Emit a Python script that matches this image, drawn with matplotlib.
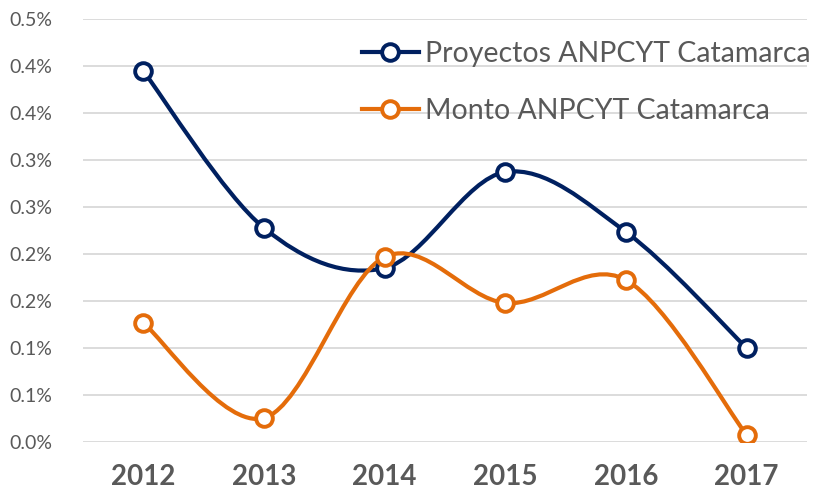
import matplotlib.pyplot as plt
import numpy as np
from decimal import Decimal, ROUND_HALF_UP
from matplotlib.path import Path
from matplotlib.patches import PathPatch
from matplotlib.lines import Line2D
from matplotlib.ticker import FuncFormatter

years = ["2012", "2013", "2014", "2015", "2016", "2017"]
proyectos = [0.3947, 0.2277, 0.1851, 0.2872, 0.2234, 0.1000]
monto = [0.1266, 0.0255, 0.1968, 0.1479, 0.1723, 0.0074]
labels = ["Proyectos ANPCYT Catamarca", "Monto ANPCYT Catamarca"]
colors = ["#002060", "#E46C0A"]

plt.rcParams["font.family"] = ["Lato", "DejaVu Sans"]


def smooth_path(xs, ys):
    """Excel-like smoothed line: Catmull-Rom segments as cubic Bezier"""
    pts = np.column_stack([xs, ys])
    n = len(pts)
    verts = [pts[0]]
    codes = [Path.MOVETO]
    for i in range(n - 1):
        p_prev = pts[max(i - 1, 0)]
        p0 = pts[i]
        p1 = pts[i + 1]
        p_next = pts[min(i + 2, n - 1)]
        c1 = p0 + (p1 - p_prev) / 6.0
        c2 = p1 - (p_next - p0) / 6.0
        verts += [c1, c2, p1]
        codes += [Path.CURVE4] * 3
    return Path(verts, codes)


def pct_fmt(v, pos):
    # Excel style rounding (half up) to one decimal
    d = Decimal(f"{v:.4f}").quantize(Decimal("0.1"), rounding=ROUND_HALF_UP)
    return f"{d}%"


fig = plt.figure(figsize=(8.14, 5.0), dpi=100)
ax = fig.add_axes([83 / 814, 58 / 500, 724 / 814, 423 / 500])

x = np.arange(len(years))
for vals, color in zip([proyectos, monto], colors):
    patch = PathPatch(smooth_path(x, vals), facecolor="none", edgecolor=color,
                      lw=3.0, capstyle="round", zorder=3)
    ax.add_patch(patch)
    ax.plot(x, vals, linestyle="none", marker="o", markersize=12,
            markerfacecolor="white", markeredgecolor=color,
            markeredgewidth=2.8, zorder=4)

ax.set_xlim(-0.5, len(years) - 0.5)
ax.set_ylim(0, 0.45)
ax.set_yticks(np.arange(0, 0.451, 0.05))
ax.yaxis.set_major_formatter(FuncFormatter(pct_fmt))
ax.set_xticks(x)
ax.set_xticklabels(years, fontsize=20, fontweight="bold", color="#595959")
ax.tick_params(axis="y", labelsize=14, colors="#595959", length=0, pad=22)
ax.tick_params(axis="x", length=0, pad=16)
ax.grid(axis="y", color="#D9D9D9", lw=1.3)
ax.set_axisbelow(True)
for s in ax.spines.values():
    s.set_visible(False)

handles = [
    Line2D([], [], color=c, lw=3.0, marker="o", markersize=12,
           markerfacecolor="white", markeredgecolor=c, markeredgewidth=2.8)
    for c in colors
]
ax.legend(handles, labels, loc="upper left",
          bbox_to_anchor=(362 / 814, 1 - 41 / 500),
          bbox_transform=fig.transFigure, frameon=False, fontsize=20.5,
          labelcolor="#595959", borderpad=0, borderaxespad=0,
          handlelength=2.0, handletextpad=0.2, labelspacing=1.1)

fig.savefig("out.png", dpi=100)
